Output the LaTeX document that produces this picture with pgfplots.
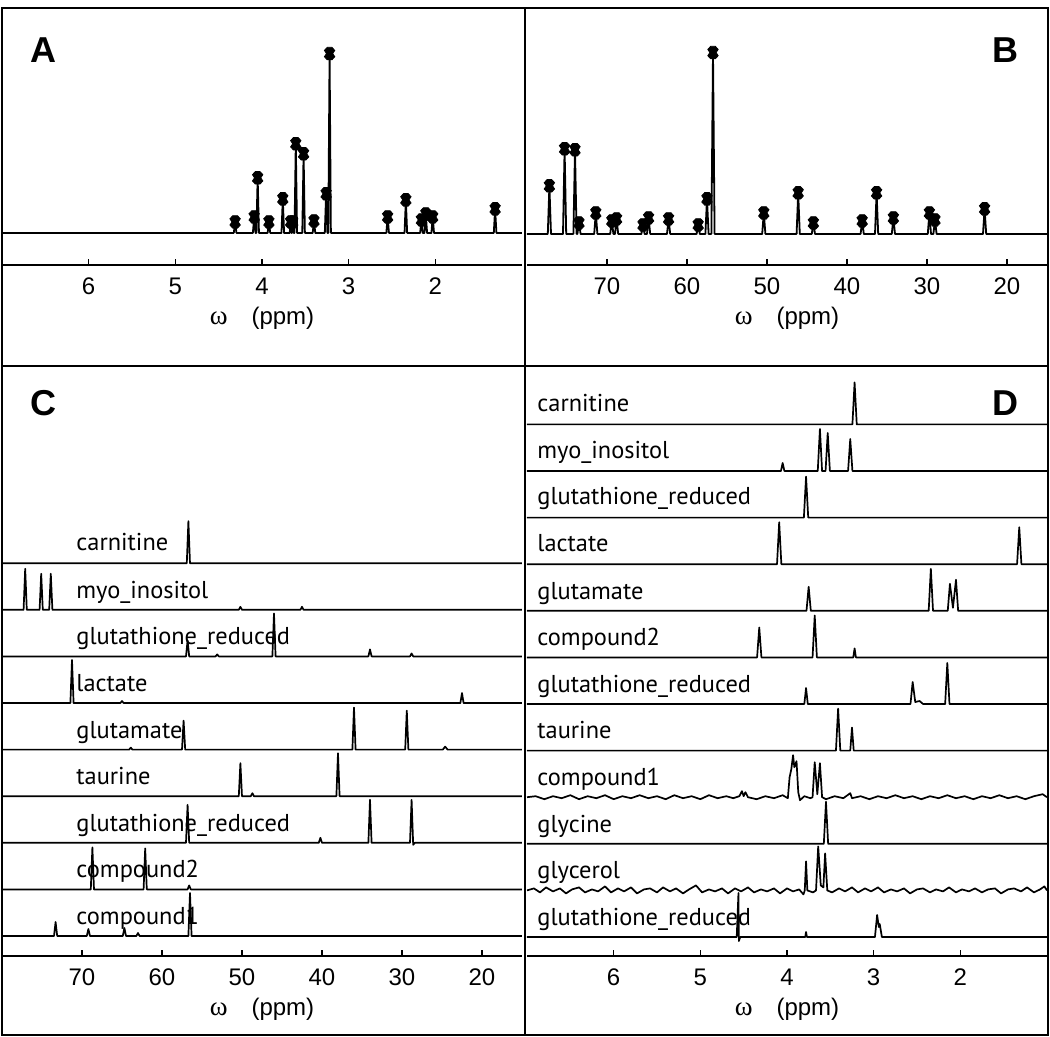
\documentclass[border=0pt]{standalone}
\usepackage{fontspec}
\setmainfont{Liberation Sans}
\newfontfamily\lab{PT Sans}
\newfontfamily\omg{Liberation Serif}
\usepackage{pgfplots}
\pgfplotsset{compat=1.18}

\def\tickfont{\fontsize{12}{13}\selectfont}
\def\labfont{\lab\fontsize{12.2}{14}\selectfont}

% notched blob used on the picked peaks
\pgfdeclareplotmark{hg}{%
  \pgfpathmoveto{\pgfpoint{-0.45\pgfplotmarksize}{1.2\pgfplotmarksize}}%
  \pgfpathlineto{\pgfpoint{0.45\pgfplotmarksize}{1.2\pgfplotmarksize}}%
  \pgfpathlineto{\pgfpoint{\pgfplotmarksize}{0.6\pgfplotmarksize}}%
  \pgfpathlineto{\pgfpoint{0.6\pgfplotmarksize}{0pt}}%
  \pgfpathlineto{\pgfpoint{\pgfplotmarksize}{-0.6\pgfplotmarksize}}%
  \pgfpathlineto{\pgfpoint{0.45\pgfplotmarksize}{-1.2\pgfplotmarksize}}%
  \pgfpathlineto{\pgfpoint{-0.45\pgfplotmarksize}{-1.2\pgfplotmarksize}}%
  \pgfpathlineto{\pgfpoint{-\pgfplotmarksize}{-0.6\pgfplotmarksize}}%
  \pgfpathlineto{\pgfpoint{-0.6\pgfplotmarksize}{0pt}}%
  \pgfpathlineto{\pgfpoint{-\pgfplotmarksize}{0.6\pgfplotmarksize}}%
  \pgfpathclose\pgfusepathqfillstroke}

\pgfplotsset{
  spec/.style={scale only axis, width=260pt, anchor=south west,
    axis x line=bottom, axis y line=none, x dir=reverse,
    tick align=inside, major tick length=3pt,
    axis line style={-, line width=1pt},
    xtick style={black, line width=0.8pt},
    xticklabel style={font=\tickfont, yshift=-3pt},
    /pgf/number format/assume math mode=true,
    every axis x label/.style={at={(axis description cs:0.5,0)}, anchor=center, yshift=-26.5pt, font=\tickfont},
    xlabel={{\omg\fontsize{13.5}{14}\selectfont ω}\quad(ppm)}},
  sp/.style={black, line width=0.9pt, mark=none, line join=round},
  row/.style={black, line width=0.85pt, mark=none, line join=round, y filter/.expression={y+#1}},
}

\begin{document}
\begin{tikzpicture}[x=0.5pt, y=-0.5pt]
\path (0,0) rectangle (1050,1037);

% ---------------- A ----------------
\begin{axis}[spec, at={(1pt,-132.5pt)}, height=128.5pt, xmin=1, xmax=7, ymin=-32, ymax=225, xtick={2,3,4,5,6}]
\addplot[sp] coordinates {(7,0)(4.325,0)(4.31,11)(4.295,0)(4.105,0)(4.09,16)(4.075,0)(4.065,0)(4.05,55)(4.035,0)(3.935,0)(3.92,11)(3.905,0)(3.775,0)(3.76,34)(3.745,0)(3.68,0)(3.67,11)(3.66,0)(3.655,0)(3.645,11)(3.635,0)(3.625,0)(3.61,89)(3.595,0)(3.535,0)(3.52,79)(3.505,0)(3.415,0)(3.40,12)(3.385,0)(3.275,0)(3.26,39)(3.245,0)(3.235,0)(3.22,179)(3.205,0)(2.565,0)(2.55,16)(2.535,0)(2.355,0)(2.34,33)(2.325,0)(2.175,0)(2.16,13)(2.145,0)(2.125,0)(2.11,19)(2.095,0)(2.045,0)(2.03,16)(2.015,0)(1.325,0)(1.31,24)(1.295,0)(1,0)};
\addplot[only marks, mark=hg, mark size=2.6pt, black] coordinates {(4.31,11)(4.09,16)(4.05,55)(3.92,11)(3.76,34)(3.67,11)(3.645,11)(3.61,89)(3.52,79)(3.40,12)(3.26,39)(3.22,179)(2.55,16)(2.34,33)(2.16,13)(2.11,19)(2.03,16)(1.31,24)};
\end{axis}

% ---------------- B ----------------
\begin{axis}[spec, at={(263.5pt,-132.5pt)}, height=128.5pt, xmin=15, xmax=80, ymin=-31, ymax=226, xtick={20,30,...,70}]
\addplot[sp] coordinates {(80,0)(77.4,0)(77.2,48)(77.0,0)(75.5,0)(75.3,85)(75.1,0)(74.2,0)(74.0,84)(73.8,0)(73.7,0)(73.5,11)(73.3,0)(71.6,0)(71.4,21)(71.2,0)(69.6,0)(69.4,13)(69.2,0)(69.0,0)(68.8,15)(68.6,0)(65.7,0)(65.5,9)(65.3,0)(65.0,0)(64.8,16)(64.6,0)(62.5,0)(62.3,15)(62.1,0)(58.8,0)(58.6,9)(58.4,0)(57.7,0)(57.5,35)(57.3,0)(56.95,0)(56.75,181)(56.55,0)(50.6,0)(50.4,21)(50.2,0)(46.3,0)(46.1,41)(45.9,0)(44.4,0)(44.2,11)(44.0,0)(38.3,0)(38.1,13)(37.9,0)(36.5,0)(36.3,41)(36.1,0)(34.4,0)(34.2,16)(34.0,0)(29.9,0)(29.7,21)(29.5,0)(29.2,0)(29.0,14)(28.8,0)(23.0,0)(22.8,25)(22.6,0)(15,0)};
\addplot[only marks, mark=hg, mark size=2.6pt, black] coordinates {(77.2,48)(75.3,85)(74.0,84)(73.5,11)(71.4,21)(69.4,13)(68.8,15)(65.5,9)(64.8,16)(62.3,15)(58.6,9)(57.5,35)(56.75,181)(50.4,21)(46.1,41)(44.2,11)(38.1,13)(36.3,41)(34.2,16)(29.7,21)(29.0,14)(22.8,25)};
\end{axis}

% ---------------- C ----------------
\begin{axis}[spec, at={(1pt,-478pt)}, height=295pt, xmin=15, xmax=80, ymin=0, ymax=590, xtick={20,30,...,70}]
\addplot[row=392.8] coordinates {(80,0)(56.9,0)(56.7,42)(56.5,0)(15,0)};
\addplot[row=346.2] coordinates {(80,0)(77.3,0)(77.1,41)(76.9,0)(75.3,0)(75.1,36)(74.9,0)(74.1,0)(73.9,36)(73.7,0)(50.4,0)(50.2,3)(50.0,0)(42.7,0)(42.5,3)(42.3,0)(15,0)};
\addplot[row=299.6] coordinates {(80,0)(57.0,0)(56.8,16)(56.6,0)(53.3,0)(53.1,2)(52.9,0)(46.2,0)(46.0,43)(45.8,0)(34.2,0)(34.0,7)(33.8,0)(29.0,0)(28.8,3)(28.6,0)(15,0)};
\addplot[row=253] coordinates {(80,0)(71.45,0)(71.25,43)(71.05,0)(65.2,0)(65,2)(64.8,0)(22.7,0)(22.5,10)(22.3,0)(15,0)};
\addplot[row=206.4] coordinates {(80,0)(64.1,0)(63.9,2)(63.7,0)(57.5,0)(57.3,29)(57.1,0)(36.2,0)(36.0,42)(35.8,0)(29.6,0)(29.4,39)(29.2,0)(24.9,0)(24.6,3)(24.3,0)(15,0)};
\addplot[row=159.8] coordinates {(80,0)(50.4,0)(50.2,33)(50.0,0)(48.9,0)(48.7,3)(48.5,0)(38.2,0)(38.0,43)(37.8,0)(15,0)};
\addplot[row=113.2] coordinates {(80,0)(57.0,0)(56.8,38)(56.6,0)(40.4,0)(40.2,5)(40.0,0)(34.2,0)(34.0,43)(33.8,0)(29.0,0)(28.8,43)(28.6,-2)(28.4,0)(15,0)};
\addplot[row=66.6] coordinates {(80,0)(68.9,0)(68.7,42)(68.5,0)(62.3,0)(62.1,41)(61.9,0)(56.8,0)(56.6,4)(56.4,0)(15,0)};
\addplot[row=20] coordinates {(80,0)(73.5,0)(73.3,14)(73.1,0)(69.4,0)(69.2,7)(69.0,0)(64.9,0)(64.7,8)(64.5,0)(63.2,0)(63.0,3)(62.8,0)(56.7,0)(56.5,43)(56.3,0)(15,0)};
\end{axis}

% ---------------- D ----------------
\begin{axis}[spec, at={(263.5pt,-478pt)}, height=295pt, xmin=1, xmax=7, ymin=0, ymax=590, xtick={2,3,4,5,6}]
\addplot[row=531.6] coordinates {(7,0)(3.245,0)(3.22,42)(3.195,0)(1,0)};
\addplot[row=485] coordinates {(7,0)(4.07,0)(4.05,8)(4.03,0)(3.645,0)(3.62,42)(3.595,0)(3.555,0)(3.53,38)(3.505,0)(3.295,0)(3.27,32)(3.245,0)(1,0)};
\addplot[row=438.4] coordinates {(7,0)(3.805,0)(3.78,41)(3.755,0)(1,0)};
\addplot[row=391.8] coordinates {(7,0)(4.115,0)(4.09,42)(4.065,0)(1.345,0)(1.32,37)(1.295,0)(1,0)};
\addplot[row=345.2] coordinates {(7,0)(3.775,0)(3.75,24)(3.725,0)(2.365,0)(2.34,42)(2.315,0)(2.145,0)(2.12,27)(2.085,3)(2.05,31)(2.025,0)(1,0)};
\addplot[row=298.6] coordinates {(7,0)(4.345,0)(4.32,30)(4.295,0)(3.705,0)(3.68,42)(3.655,0)(3.235,0)(3.22,9)(3.205,0)(1,0)};
\addplot[row=252] coordinates {(7,0)(3.8,0)(3.78,16)(3.76,0)(2.575,0)(2.55,22)(2.52,2)(2.47,3)(2.43,0)(2.175,0)(2.15,41)(2.125,0)(1,0)};
\addplot[row=205.4] coordinates {(7,0)(3.435,0)(3.41,42)(3.385,0)(3.27,0)(3.25,23)(3.23,0)(1,0)};
\addplot[row=158.8] coordinates {(7,0)(6.9,1)(6.8,-2)(6.7,1)(6.6,-1)(6.5,2)(6.4,-2)(6.3,1)(6.2,-1)(6.1,2)(6.0,-2)(5.9,1)(5.8,-1)(5.7,2)(5.6,-1)(5.5,1)(5.4,-2)(5.3,2)(5.2,-1)(5.1,1)(5.0,-2)(4.9,2)(4.8,-1)(4.7,1)(4.62,-1)(4.55,1)(4.52,6)(4.5,1)(4.48,5)(4.45,0)(4.35,-2)(4.25,1)(4.15,-1)(4.05,2)(3.99,-1)(3.97,20)(3.95,28)(3.93,42)(3.915,30)(3.89,36)(3.87,5)(3.85,-3)(3.8,1)(3.73,-1)(3.705,0)(3.68,35)(3.65,3)(3.62,34)(3.595,0)(3.55,-2)(3.45,1)(3.35,-1)(3.27,4)(3.25,-1)(3.15,1)(3.05,-2)(2.95,1)(2.85,-1)(2.75,2)(2.65,-1)(2.55,1)(2.45,-2)(2.35,1)(2.25,-1)(2.15,2)(2.05,-1)(1.95,1)(1.85,-2)(1.75,1)(1.65,-1)(1.55,2)(1.45,-1)(1.35,1)(1.25,-2)(1.15,1)(1.05,3)(1,0)};
\addplot[row=112.2] coordinates {(7,0)(3.575,0)(3.55,42)(3.525,0)(1,0)};
\addplot[row=65.6] coordinates {(7.0,0)(6.92,2)(6.85,-2)(6.78,3)(6.7,-1)(6.62,2)(6.55,-3)(6.48,1)(6.4,3)(6.33,-2)(6.25,1)(6.18,-1)(6.1,4)(6.03,-2)(5.95,2)(5.88,-1)(5.8,3)(5.73,-3)(5.65,1)(5.58,2)(5.5,-2)(5.43,3)(5.35,-1)(5.28,2)(5.2,-3)(5.13,1)(5.05,5)(4.98,-2)(4.9,1)(4.83,-1)(4.75,2)(4.68,-3)(4.6,2)(4.53,-1)(4.45,3)(4.38,-2)(4.3,1)(4.23,-1)(4.15,2)(4.08,-3)(4.0,2)(3.93,-1)(3.86,1)(3.81,-4)(3.795,0)(3.78,29)(3.765,0)(3.7,-2)(3.665,0)(3.64,44)(3.61,5)(3.58,3)(3.56,37)(3.535,0)(3.48,-2)(3.4,2)(3.33,-1)(3.25,3)(3.18,-2)(3.1,2)(3.03,-1)(2.95,3)(2.88,-2)(2.8,1)(2.73,-1)(2.65,2)(2.58,-3)(2.5,1)(2.43,2)(2.35,-2)(2.28,1)(2.2,-1)(2.13,3)(2.05,-2)(1.98,1)(1.9,-1)(1.83,2)(1.75,-2)(1.68,1)(1.6,2)(1.53,-3)(1.45,1)(1.38,2)(1.3,-1)(1.23,3)(1.15,-2)(1.08,1)(1.03,4)(1.0,0)};
\addplot[row=19] coordinates {(7,0)(4.58,0)(4.56,44)(4.555,-4)(4.54,0)(3.79,0)(3.78,5)(3.77,0)(2.985,0)(2.96,22)(2.94,10)(2.93,13)(2.905,0)(1,0)};
\end{axis}

% row labels
\begin{scope}[every node/.style={anchor=base west, font=\labfont, inner sep=0pt}]
\node at (76,551) {carnitine};
\node at (76,598) {myo\_inositol};
\node at (76,644) {glutathione\_reduced};
\node at (76,691) {lactate};
\node at (76,738) {glutamate};
\node at (76,784) {taurine};
\node at (76,831) {glutathione\_reduced};
\node at (76,877) {compound2};
\node at (76,924) {compound1};
\node at (537,412) {carnitine};
\node at (537,459) {myo\_inositol};
\node at (537,505) {glutathione\_reduced};
\node at (537,552) {lactate};
\node at (537,599) {glutamate};
\node at (537,645) {compound2};
\node at (537,692) {glutathione\_reduced};
\node at (537,738) {taurine};
\node at (537,785) {compound1};
\node at (537,832) {glycine};
\node at (537,878) {glycerol};
\node at (537,925) {glutathione\_reduced};
\end{scope}

% panel letters
\begin{scope}[every node/.style={font=\bfseries\fontsize{18}{18}\selectfont}]
\node at (43,50) {A};
\node at (1005,50) {B};
\node at (43,403) {C};
\node at (1005,403) {D};
\end{scope}

% frames
\draw[line width=1.2pt] (2,8) rectangle (1048,1035);
\draw[line width=1.2pt] (525,8) -- (525,1035);
\draw[line width=1.2pt] (2,366) -- (1048,366);
\end{tikzpicture}
\end{document}
